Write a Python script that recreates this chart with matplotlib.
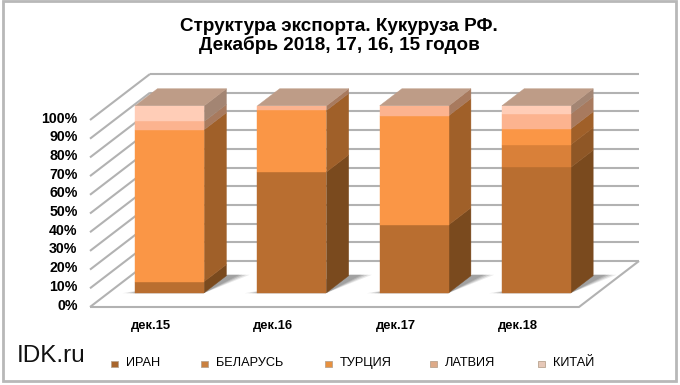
import matplotlib
matplotlib.use("Agg")
import matplotlib.pyplot as plt
from matplotlib.patches import Polygon, Rectangle
from matplotlib.transforms import ScaledTranslation

plt.rcParams['font.family'] = ['Liberation Sans', 'DejaVu Sans']

categories = ['дек.15', 'дек.16', 'дек.17', 'дек.18']
iran = [6.0, 64.6, 36.3, 67.1]
belarus = [0.0, 0.0, 0.0, 12.1]
turkey = [81.2, 32.9, 58.4, 8.5]
latvia = [4.4, 2.5, 5.3, 8.0]
china = [8.4, 0.0, 0.0, 4.3]
series_names = ['ИРАН', 'БЕЛАРУСЬ', 'ТУРЦИЯ', 'ЛАТВИЯ', 'КИТАЙ']
series_values = [iran, belarus, turkey, latvia, china]
front_colors = ['#B96E30', '#D98039', '#FA9646', '#FCB38F', '#FFCDB7']
side_colors = ['#7A4A1E', '#8F5726', '#A06029', '#A87A5E', '#A38573']
legend_colors = ['#A8652C', '#C9803F', '#E8913F', '#DDAA88', '#E6C8B8']
top_color = '#BE9C87'
yticks = list(range(0, 101, 10))
ylabels = [f'{v}%' for v in yticks]
title = 'Структура экспорта. Кукуруза РФ.\nДекабрь 2018, 17, 16, 15 годов'
legend_x = [111, 201, 325, 430, 538]

W, H = 680, 385
fig = plt.figure(figsize=(W / 100, H / 100), dpi=100, facecolor='white')
fig.add_artist(Rectangle((2.5 / W, 1 - 381 / H), 673 / W, 380 / H, transform=fig.transFigure,
                         fill=False, ec='#B8B8B8', lw=2))

left, right, bottom, top = 90, 579, 307, 120
ax = fig.add_axes([left / W, 1 - bottom / H, (right - left) / W, (bottom - top) / H])
ax.set_xlim(-0.5, 3.5)
ax.set_ylim(0, 100)
for s in ax.spines.values():
    s.set_visible(False)
ax.patch.set_visible(False)
ax.set_xticks(range(len(categories)), categories, fontsize=9.4, fontweight='bold')
ax.set_yticks(yticks, ylabels, fontsize=10.2, fontweight='bold')
ax.tick_params(length=0)
ax.tick_params(axis='y', pad=9)
ax.tick_params(axis='x', pad=9)
shift = ScaledTranslation(0, 1.5 / 100, fig.dpi_scale_trans)
for lab in ax.get_yticklabels():
    lab.set_va('center')
    lab.set_transform(lab.get_transform() + shift)

DX, DY = 60 / 122.25, 46 / 1.87          # full floor depth in data units
NEAR, FAR = 0.31, 0.68
BAR_W = 69 / 122.25
GRID = '#B2B2B2'


def proj(x, y, d):
    return (x + d * DX, y + d * DY)


kw = dict(color=GRID, lw=1.5, clip_on=False, zorder=1, solid_capstyle='butt')
for v in yticks:
    a, b = proj(-0.5, v, 0), proj(-0.5, v, 1)
    c = proj(3.5, v, 1)
    ax.plot([a[0], b[0]], [a[1], b[1]], **kw)
    ax.plot([b[0], c[0]], [b[1], c[1]], **kw)
p0, p1 = proj(-0.5, 0, 0), proj(3.5, 0, 0)
p2 = proj(3.5, 0, 1)
ax.plot([p0[0], p1[0], p2[0]], [p0[1], p1[1], p2[1]], **kw)

n = len(categories)
for i in range(n):
    x0, x1 = i - BAR_W / 2, i + BAR_W / 2
    # soft floor shadow
    for grow, alpha in ((0.10, 0.18), (0.07, 0.28), (0.04, 0.38), (0.015, 0.45)):
        sh = [proj(x0 - grow, 0, NEAR - 0.01), proj(x1, 0, NEAR - 0.01),
              proj(x1 + grow + 0.08, 0, FAR + 0.02), proj(x1, 0, FAR + 0.02)]
        ax.add_patch(Polygon(sh, fc='#8A8A8A', ec='none', alpha=alpha, zorder=2, clip_on=False))
    base = 0
    for k, vals in enumerate(series_values):
        v = vals[i]
        if v <= 0:
            continue
        t = base + v
        front = [proj(x0, base, NEAR), proj(x1, base, NEAR), proj(x1, t, NEAR), proj(x0, t, NEAR)]
        side = [proj(x1, base, NEAR), proj(x1, base, FAR), proj(x1, t, FAR), proj(x1, t, NEAR)]
        ax.add_patch(Polygon(side, fc=side_colors[k], ec=side_colors[k], lw=0.3, zorder=3, clip_on=False))
        ax.add_patch(Polygon(front, fc=front_colors[k], ec=front_colors[k], lw=0.3, zorder=4, clip_on=False))
        base = t
    toppoly = [proj(x0, base, NEAR), proj(x1, base, NEAR), proj(x1, base, FAR), proj(x0, base, FAR)]
    ax.add_patch(Polygon(toppoly, fc=top_color, ec=top_color, lw=0.3, zorder=5, clip_on=False))

fig.text(339 / W, 1 - 36 / H, title, ha='center', va='center', fontsize=13.6,
         fontweight='bold', linespacing=1.12, color='black')
fig.text(17 / W, 1 - 356 / H, 'IDK.ru', ha='left', va='center', fontsize=17.5, color='#111111')

for name, xp, c in zip(series_names, legend_x, legend_colors):
    fig.add_artist(Rectangle((xp / W, 1 - 367 / H), 6.5 / W, 6.5 / H, transform=fig.transFigure,
                             fc=c, ec='#B9A48F', lw=0.6))
    fig.text((xp + 15) / W, 1 - 363 / H, name, ha='left', va='center', fontsize=9.2, color='black')

fig.savefig('out.png', dpi=100)
